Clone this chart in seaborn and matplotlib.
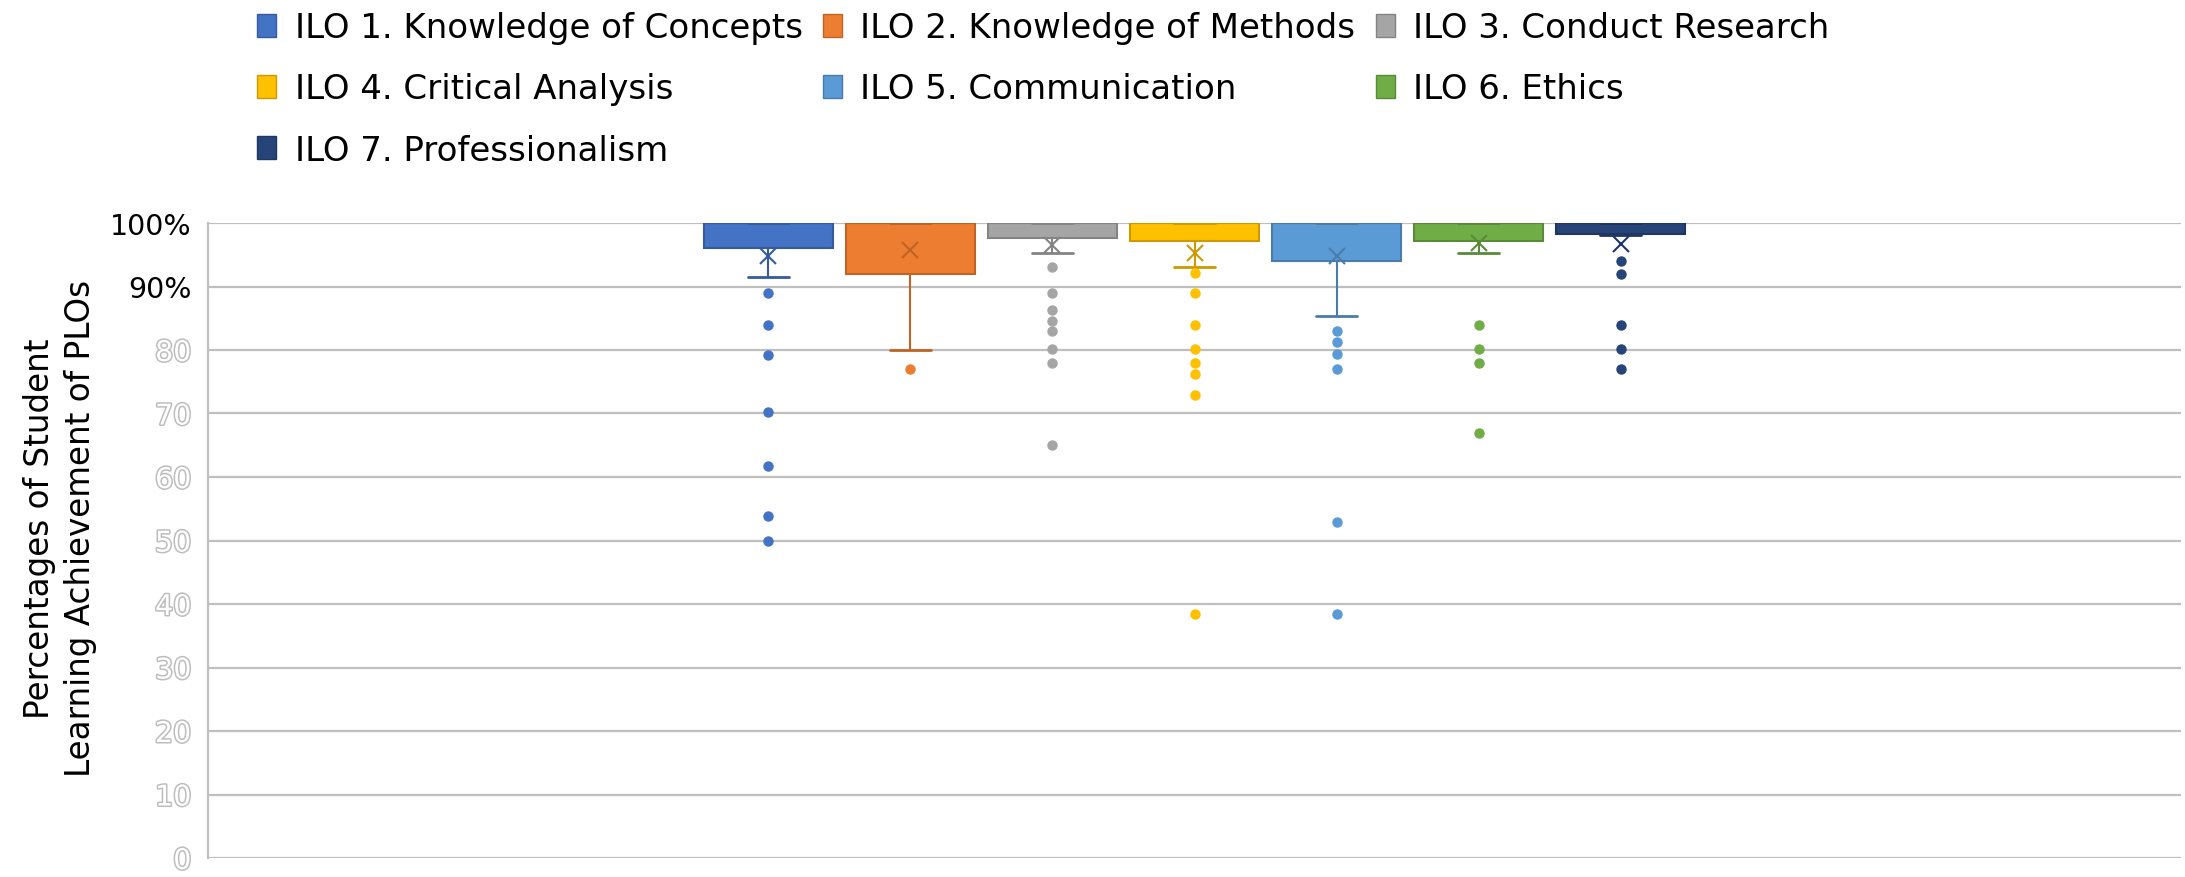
import pandas as pd
import seaborn as sns
import matplotlib.pyplot as plt
import matplotlib.patheffects as pe
from matplotlib.patches import Patch
from matplotlib.colors import to_rgb

# ILO names and Excel-like series colours
ilo_labels = ["ILO 1. Knowledge of Concepts", "ILO 2. Knowledge of Methods",
              "ILO 3. Conduct Research", "ILO 4. Critical Analysis",
              "ILO 5. Communication", "ILO 6. Ethics", "ILO 7. Professionalism"]
ilo_colors = ["#4472C4", "#ED7D31", "#A5A5A5", "#FFC000", "#5B9BD5", "#70AD47", "#264478"]

# student scores (%) per ILO, estimated from the chart (outliers, whisker end, box, then full marks)
ilo1_scores = [50, 53.8, 61.7, 70.2, 79.2, 84, 89, 91.5, 93.5, 94.5, 95.2, 95.8, 96.1,
               98, 98.5, 99, 99, 99.5, 99.5] + [100] * 30
ilo2_scores = [77, 80, 82, 84, 85, 86, 87, 88, 89, 90, 91, 91.5, 92,
               93, 94, 95, 96, 97, 98, 98, 99, 99, 100, 100] + [100] * 25
ilo3_scores = [65.1, 78, 80.2, 83, 84.6, 86.3, 89, 93.1, 95.3, 96, 96.8, 97.3, 97.7,
               98, 98, 98.5, 98.5, 98.5, 99, 99, 99, 99, 99.5, 100] + [100] * 25
ilo4_scores = [38.4, 72.9, 76.2, 78, 80.2, 84, 89, 92.1, 93.1, 94, 95.5, 96.5, 97.1,
               97.2, 97.3, 97.5, 97.5, 97.8, 98, 98, 98.5, 98.5, 99, 99] + [100] * 25
ilo5_scores = [38.4, 52.9, 77, 79.3, 81.2, 83, 85.3, 90, 91.5, 92.5, 93, 93.5, 94,
               98, 98.5, 99, 99, 99.5, 99.5, 100, 100, 100, 100, 100] + [100] * 25
ilo6_scores = [67, 78, 80.1, 84, 95.3, 95.3, 95.4, 95.6, 95.8, 96, 96.3, 96.6, 97.2,
               97.2, 97.2, 97.2, 97.2, 97.2, 97.2, 97.5, 98, 98, 98.5, 99] + [100] * 25
ilo7_scores = [77, 80.1, 84, 92, 94, 98.1, 98.3, 98.5, 99, 99, 99.5, 99.5] + [100] * 13

all_scores = [ilo1_scores, ilo2_scores, ilo3_scores, ilo4_scores,
              ilo5_scores, ilo6_scores, ilo7_scores]

df = pd.DataFrame({
    "group": [""] * sum(len(s) for s in all_scores),
    "ILO": [lab for lab, s in zip(ilo_labels, all_scores) for _ in s],
    "score": [v for s in all_scores for v in s],
})


def darker(c, f=0.8):
    r, g, b = to_rgb(c)
    return (r * f, g * f, b * f)


sns.set_theme(style="white")
plt.rcParams["font.family"] = ["DejaVu Sans"]

fig = plt.figure(figsize=(21.85, 8.78), dpi=100)
ax = fig.add_axes([208 / 2185, 19 / 878, 1973 / 2185, 635 / 878])

sns.boxplot(data=df, x="group", y="score", hue="ILO", hue_order=ilo_labels,
            palette=ilo_colors, width=0.504, gap=0.09, whis=1.5,
            showmeans=True, legend=False, ax=ax)

# restyle each series like the Excel box & whisker chart
for cont, col in zip(ax.containers, ilo_colors):
    edge = darker(col)
    for b in cont.boxes:
        b.set_facecolor(col)
        b.set_edgecolor(edge)
        b.set_linewidth(1.5)
    for ln in list(cont.whiskers) + list(cont.medians):
        ln.set_color(edge)
        ln.set_linewidth(1.5)
    for cap in cont.caps:
        xs = cap.get_xdata()
        c = (xs[0] + xs[1]) / 2
        cap.set_xdata([c - 0.0105, c + 0.0105])
        cap.set_color(edge)
        cap.set_linewidth(2)
    for fl in cont.fliers:
        fl.set_marker("o")
        fl.set_markerfacecolor(col)
        fl.set_markeredgecolor(col)
        fl.set_markersize(6.5)
    for mn in cont.means:
        mn.set_marker("x")
        mn.set_markeredgecolor(edge)
        mn.set_markerfacecolor(edge)
        mn.set_markersize(12)
        mn.set_markeredgewidth(1.5)

ax.set_xlim(-0.5, 0.5)
ax.set_ylim(0, 100)
ax.set_xlabel("")
ax.set_xticks([])

# y axis: 100% and 90% in black, the rest as hollow grey numbers
yticks = list(range(0, 101, 10))
ytick_text = ["0", "10", "20", "30", "40", "50", "60", "70", "80", "90%", "100%"]
ax.set_yticks(yticks)
ax.set_yticklabels(ytick_text, fontsize=20.5)
ax.tick_params(axis="y", length=0, pad=12)
for lab, v in zip(ax.get_yticklabels(), yticks):
    if v < 90:
        lab.set_color("white")
        lab.set_path_effects([pe.withStroke(linewidth=2.2, foreground="#bdbdbd")])
    else:
        lab.set_color("black")

ax.yaxis.grid(True, color="#bfbfbf", linewidth=1.6)
ax.set_axisbelow(True)
for side in ["top", "right", "bottom"]:
    ax.spines[side].set_visible(False)
ax.spines["left"].set_color("#bfbfbf")
ax.spines["left"].set_linewidth(1.6)

ax.set_ylabel("Percentages of Student\nLearning Achievement of PLOs",
              fontsize=23.5, color="black", labelpad=9, linespacing=1.3)
ax.yaxis.label.set_y(0.52)

# legend laid out row by row, three columns
handles = [Patch(facecolor=c, edgecolor=darker(c), label=l)
           for c, l in zip(ilo_colors, ilo_labels)]
order = [0, 3, 6, 1, 4, 2, 5]
fig.legend([handles[i] for i in order], [ilo_labels[i] for i in order],
           ncol=3, loc="upper left", bbox_to_anchor=(252 / 2185, 1 - 7 / 878),
           frameon=False, fontsize=24.5, labelcolor="black",
           handlelength=0.55, handleheight=0.65, handletextpad=0.55,
           columnspacing=0.6, labelspacing=0.83, borderpad=0.15,
           borderaxespad=0.0)

fig.savefig("out.png", dpi=100)
